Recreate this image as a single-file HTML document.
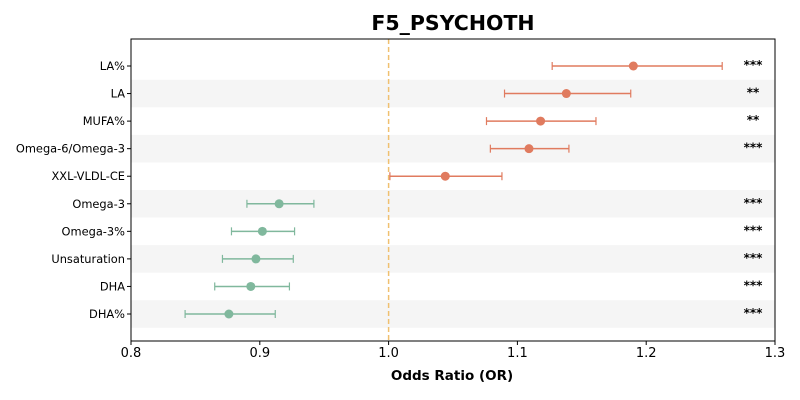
<!DOCTYPE html>
<html><head><meta charset="utf-8"><style>
body{margin:0;background:#fff;}
svg{display:block;font-family:"DejaVu Sans","Liberation Sans",sans-serif;}
</style></head><body>
<svg id="chart" width="800" height="400"></svg>
<script>
const labels=["LA%","LA","MUFA%","Omega-6/Omega-3","XXL-VLDL-CE","Omega-3","Omega-3%","Unsaturation","DHA","DHA%"];
const orValues=[1.190,1.138,1.118,1.109,1.044,0.915,0.902,0.897,0.893,0.876];
const ciLow=[1.127,1.090,1.076,1.079,1.001,0.890,0.878,0.871,0.865,0.842];
const ciHigh=[1.259,1.188,1.161,1.140,1.088,0.942,0.927,0.926,0.923,0.912];
const stars=["***","**","**","***","","***","***","***","***","***"];
const xTicks=[0.8,0.9,1.0,1.1,1.2,1.3];
const xTickLabels=["0.8","0.9","1.0","1.1","1.2","1.3"];

const NS="http://www.w3.org/2000/svg";
const svg=document.getElementById("chart");
const L=131,R=775,T=39,B=341;
const x=v=>L+(v-0.8)/(1.3-0.8)*(R-L);
const firstY=66,lastY=314;
const step=(lastY-firstY)/(labels.length-1);
const y=i=>firstY+step*i;
function mk(tag,attrs,parent){const e=document.createElementNS(NS,tag);for(const k in attrs)e.setAttribute(k,attrs[k]);(parent||svg).appendChild(e);return e;}

const title=mk("text",{x:453,y:30,"text-anchor":"middle","font-size":20.5,"font-weight":"bold",fill:"#000"});
title.textContent="F5_PSYCHOTH";



labels.forEach((lab,i)=>{
  if(i%2===1){
    const s=mk("rect",{x:L,y:y(i)-step/2,width:R-L,height:step,fill:"#f5f5f5"});
    
    
  }
});
const ref=mk("line",{x1:x(1),x2:x(1),y1:T,y2:B,stroke:"#f0c070","stroke-width":1.5,"stroke-dasharray":"5,3"});



labels.forEach((lab,i)=>{
  const col=orValues[i]>=1?"#e07b5f":"#80b89d";
  const g=mk("g",{});
  
  
  const yy=y(i);
  mk("line",{x1:x(ciLow[i]),x2:x(ciHigh[i]),y1:yy,y2:yy,stroke:col,"stroke-width":1.5},g);
  mk("line",{x1:x(ciLow[i]),x2:x(ciLow[i]),y1:yy-4,y2:yy+4,stroke:col,"stroke-width":1.2},g);
  mk("line",{x1:x(ciHigh[i]),x2:x(ciHigh[i]),y1:yy-4,y2:yy+4,stroke:col,"stroke-width":1.2},g);
  mk("circle",{cx:x(orValues[i]),cy:yy,r:4.5,fill:col},g);
  const t=mk("text",{x:L-6,y:yy+4,"text-anchor":"end","font-size":11.4,fill:"#000"});
  t.textContent=lab;
  
  
  mk("line",{x1:L-4,x2:L,y1:yy,y2:yy,stroke:"#000"});
  if(stars[i]){
    const s=mk("text",{x:753,y:yy+3,"text-anchor":"middle","font-size":12,"font-weight":"bold",fill:"#000"});
    s.textContent=stars[i];
    
    
  }
});

const frame=mk("rect",{x:L,y:T,width:R-L,height:B-T,fill:"none",stroke:"#000","stroke-width":1});



xTicks.forEach((v,i)=>{
  mk("line",{x1:x(v),x2:x(v),y1:B,y2:B+4,stroke:"#000"});
  const t=mk("text",{x:x(v),y:B+16,"text-anchor":"middle","font-size":13,fill:"#000"});
  t.textContent=xTickLabels[i];
  
  
});
const xt=mk("text",{x:452,y:380,"text-anchor":"middle","font-size":13.5,"font-weight":"bold",fill:"#000"});
xt.textContent="Odds Ratio (OR)";


</script>
</body></html>
